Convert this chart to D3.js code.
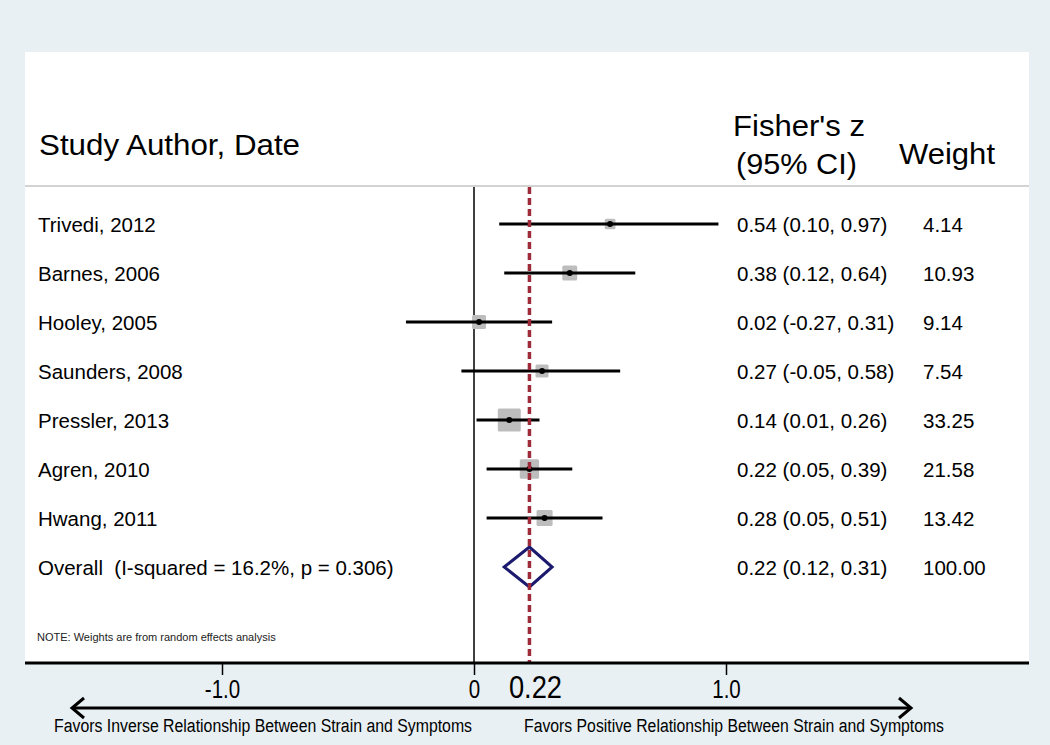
<!DOCTYPE html>
<html>
<head>
<meta charset="utf-8">
<script src="https://cdn.jsdelivr.net/npm/d3@7"></script>
<style>
  html, body { margin: 0; padding: 0; background: #e8f0f3; }
  svg { display: block; font-family: "Liberation Sans", Arial, sans-serif; }
</style>
</head>
<body>
<div id="chart"></div>
<script>
// study data
const studies = ["Trivedi, 2012", "Barnes, 2006", "Hooley, 2005", "Saunders, 2008",
                 "Pressler, 2013", "Agren, 2010", "Hwang, 2011"];
const est     = [0.54, 0.38, 0.02, 0.27, 0.14, 0.22, 0.28];
const lower   = [0.10, 0.12, -0.27, -0.05, 0.01, 0.05, 0.05];
const upper   = [0.97, 0.64, 0.31, 0.58, 0.26, 0.39, 0.51];
const weights = [4.14, 10.93, 9.14, 7.54, 33.25, 21.58, 13.42];

const overallLabel = "Overall  (I-squared = 16.2%, p = 0.306)";
const overall = { est: 0.22, lo: 0.12, hi: 0.31, weight: 100.00 };

const tickVals   = [-1, 0, 1];
const tickLabels = ["-1.0", "0", "1.0"];

const W = 1050, H = 745;
const panel = { left: 25, right: 1029, top: 52, bottom: 663 };

const svg = d3.select("#chart").append("svg")
  .attr("width", W)
  .attr("height", H);

// white plot panel
svg.append("rect")
  .attr("x", panel.left)
  .attr("y", panel.top)
  .attr("width", panel.right - panel.left)
  .attr("height", panel.bottom - panel.top)
  .attr("fill", "#fff");

// scales
const x = d3.scaleLinear().domain([-1, 1]).range([222, 726]);
const y = d3.scaleLinear().domain([0, 7]).range([224, 567]);
const box = d3.scaleSqrt().domain([0, 33.25]).range([4, 23]);

// plain hyphen for negatives, like the original
const fmt = v => d3.format(".2f")(v).replace("\u2212", "-");

// headers
function header(txt, hx, hy, len) {
  svg.append("text")
    .attr("x", hx).attr("y", hy)
    .attr("font-size", "29px")
    .attr("textLength", len)
    .attr("lengthAdjust", "spacingAndGlyphs")
    .text(txt);
}
header("Study Author, Date", 39, 155, 261);
header("Fisher's z", 733, 136, 132);
header("(95% CI)", 736, 174, 121);
header("Weight", 899, 164, 96);

// header separator
svg.append("line")
  .attr("x1", panel.left).attr("x2", panel.right)
  .attr("y1", 186).attr("y2", 186)
  .attr("stroke", "#c4c4c4")
  .attr("stroke-width", 1.5);

// null line at 0
svg.append("line")
  .attr("x1", x(0)).attr("x2", x(0))
  .attr("y1", 187).attr("y2", panel.bottom)
  .attr("stroke", "#000")
  .attr("stroke-width", 1.5);

// rows
const rows = svg.selectAll("g.row")
  .data(studies)
  .enter()
  .append("g")
  .attr("class", "row");

rows.append("rect")
  .attr("x", (d, i) => x(est[i]) - box(weights[i]) / 2)
  .attr("y", (d, i) => y(i) - box(weights[i]) / 2)
  .attr("width", (d, i) => box(weights[i]))
  .attr("height", (d, i) => box(weights[i]))
  .attr("rx", 1.5)
  .attr("fill", "#bdbdbd");

rows.append("line")
  .attr("x1", (d, i) => x(lower[i]))
  .attr("x2", (d, i) => x(upper[i]))
  .attr("y1", (d, i) => y(i))
  .attr("y2", (d, i) => y(i))
  .attr("stroke", "#000")
  .attr("stroke-width", 3.2);

rows.append("circle")
  .attr("cx", (d, i) => x(est[i]))
  .attr("cy", (d, i) => y(i))
  .attr("r", 3)
  .attr("fill", "#000");

rows.append("text")
  .attr("x", 38)
  .attr("y", (d, i) => y(i) + 7.5)
  .attr("font-size", "20.5px")
  .text(d => d);

rows.append("text")
  .attr("x", 737)
  .attr("y", (d, i) => y(i) + 7.5)
  .attr("font-size", "20.5px")
  .text((d, i) => `${fmt(est[i])} (${fmt(lower[i])}, ${fmt(upper[i])})`);

rows.append("text")
  .attr("x", 923)
  .attr("y", (d, i) => y(i) + 7.5)
  .attr("font-size", "20.5px")
  .text((d, i) => fmt(weights[i]));

// overall diamond
const yo = y(7);
svg.append("path")
  .attr("d", `M${x(overall.lo)},${yo} L${x(overall.est)},${yo - 20} L${x(overall.hi)},${yo} L${x(overall.est)},${yo + 20} Z`)
  .attr("fill", "none")
  .attr("stroke", "#1c1a6e")
  .attr("stroke-width", 3);

svg.append("text")
  .attr("x", 38).attr("y", yo + 7.5)
  .attr("font-size", "20.5px")
  .style("white-space", "pre")
  .text(overallLabel);

svg.append("text")
  .attr("x", 737).attr("y", yo + 7.5)
  .attr("font-size", "20.5px")
  .text(`${fmt(overall.est)} (${fmt(overall.lo)}, ${fmt(overall.hi)})`);

svg.append("text")
  .attr("x", 923).attr("y", yo + 7.5)
  .attr("font-size", "20.5px")
  .text(fmt(overall.weight));

// pooled estimate line
svg.append("line")
  .attr("x1", x(overall.est)).attr("x2", x(overall.est))
  .attr("y1", 187).attr("y2", panel.bottom)
  .attr("stroke", "#9e2b3a")
  .attr("stroke-width", 3.5)
  .attr("stroke-dasharray", "7 4");

svg.append("text")
  .attr("x", 37).attr("y", 641)
  .attr("font-size", "11px")
  .attr("fill", "#222")
  .text("NOTE: Weights are from random effects analysis");

// x axis
const axis = svg.append("g")
  .attr("transform", `translate(0,${panel.bottom})`)
  .call(d3.axisBottom(x).tickValues(tickVals).tickSize(12).tickFormat((d, i) => tickLabels[i]));

axis.select(".domain").remove();
axis.selectAll(".tick line").attr("stroke", "#000").attr("stroke-width", 1.5);
axis.selectAll(".tick text")
  .attr("y", 35)
  .attr("dy", null)
  .attr("font-size", "25px")
  .attr("font-family", "Liberation Sans, Arial, sans-serif")
  .attr("transform", "scale(0.82,1)")
  .attr("fill", "#000");

svg.append("line")
  .attr("x1", panel.left).attr("x2", panel.right)
  .attr("y1", panel.bottom).attr("y2", panel.bottom)
  .attr("stroke", "#000")
  .attr("stroke-width", 3);

svg.append("text")
  .attr("transform", `translate(${x(overall.est) + 6},698) scale(0.88,1)`)
  .attr("text-anchor", "middle")
  .attr("font-size", "31px")
  .text(fmt(overall.est));

// direction arrow
const ay = 708;
const arrow = svg.append("g")
  .attr("fill", "none")
  .attr("stroke", "#000")
  .attr("stroke-width", 3);
arrow.append("line").attr("x1", 72).attr("x2", 911).attr("y1", ay).attr("y2", ay);
arrow.append("path").attr("d", `M84,${ay - 10} L72,${ay} L84,${ay + 10}`);
arrow.append("path").attr("d", `M899,${ay - 10} L911,${ay} L899,${ay + 10}`);

svg.append("text")
  .attr("x", 54).attr("y", 732)
  .attr("font-size", "18px")
  .attr("textLength", 418)
  .attr("lengthAdjust", "spacingAndGlyphs")
  .text("Favors Inverse Relationship Between Strain and Symptoms");

svg.append("text")
  .attr("x", 524).attr("y", 732)
  .attr("font-size", "18px")
  .attr("textLength", 420)
  .attr("lengthAdjust", "spacingAndGlyphs")
  .text("Favors Positive Relationship Between Strain and Symptoms");
</script>
</body>
</html>
